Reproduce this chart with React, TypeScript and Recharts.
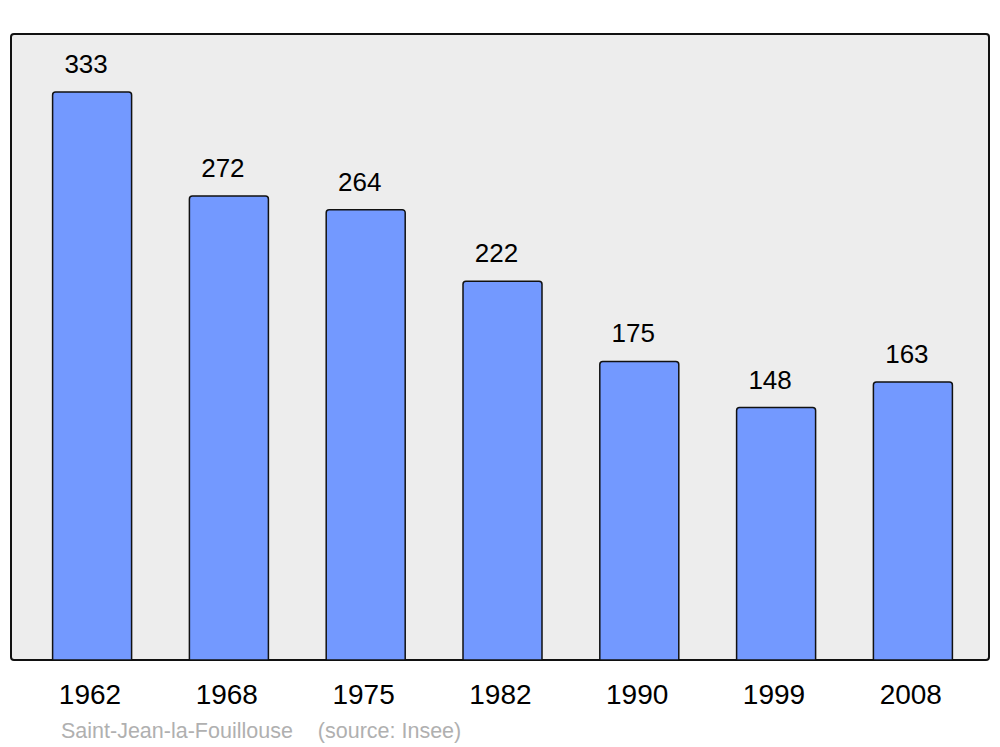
import { BarChart, Bar, XAxis, YAxis, LabelList } from 'recharts';

const years = ['1962', '1968', '1975', '1982', '1990', '1999', '2008'];
const population = [333, 272, 264, 222, 175, 148, 163];

const data = years.map((year, i) => ({ year, population: population[i] }));

const W = 1000;
const H = 747;
const axisHeight = 40;
const margin = { top: 34, right: 11, bottom: 87 - axisHeight, left: 11 };
const font = '"Liberation Sans", Arial, sans-serif';

const YearTick = ({ x, y, payload }: any) => (
    <text x={x - 2} y={y + 44} textAnchor="middle" fontSize={28} fontFamily={font} fill="#000">
        {payload.value}
    </text>
);

const ValueLabel = ({ x, y, width, value }: any) => (
    <text x={x + width / 2 - 6} y={y - 19} textAnchor="middle" fontSize={26} fontFamily={font} fill="#000">
        {value}
    </text>
);

export default function App() {
    return (
        <div style={{ position: 'absolute', left: 0, top: 0, width: W, height: H, background: '#fff' }}>
            {/* plot frame */}
            <div
                style={{
                    position: 'absolute',
                    left: margin.left - 1,
                    top: margin.top - 1,
                    width: W - margin.left - margin.right - 2,
                    height: H - margin.top - 87 - 2,
                    background: '#ededed',
                    border: '2px solid #111',
                    borderRadius: 4,
                }}
            />
            <div style={{ position: 'absolute', left: 0, top: 0 }}>
                <BarChart width={W} height={H} data={data} margin={margin}>
                    <XAxis
                        dataKey="year"
                        height={axisHeight}
                        axisLine={false}
                        tickLine={false}
                        tickSize={0}
                        tickMargin={0}
                        padding={{ left: 12.6, right: 7.8 }}
                        tick={<YearTick />}
                        interval={0}
                    />
                    <YAxis hide domain={[0, 367]} />
                    <Bar
                        dataKey="population"
                        fill="#7399ff"
                        stroke="#111"
                        strokeWidth={1.5}
                        barSize={79}
                        radius={[3, 3, 0, 0]}
                        isAnimationActive={false}
                    >
                        <LabelList dataKey="population" content={<ValueLabel />} />
                    </Bar>
                </BarChart>
            </div>
            <div
                style={{
                    position: 'absolute',
                    left: 61,
                    top: 719,
                    fontFamily: font,
                    fontSize: 21.5,
                    color: '#b0b0b0',
                    whiteSpace: 'nowrap',
                }}
            >
                <span>Saint-Jean-la-Fouillouse</span>
                <span style={{ marginLeft: 25 }}>(source: Insee)</span>
            </div>
        </div>
    );
}
